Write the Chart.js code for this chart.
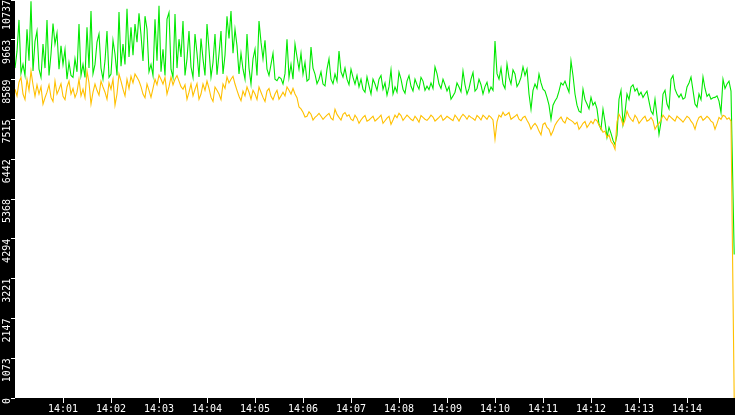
<!DOCTYPE html>
<html>
<head>
<meta charset="utf-8">
<script src="https://cdn.jsdelivr.net/npm/chart.js@4.4.1/dist/chart.umd.min.js"></script>
<style>
  html, body { margin: 0; padding: 0; background: #000; overflow: hidden; }
  canvas { display: block; }
</style>
</head>
<body>
<canvas id="traffic" width="735" height="415"></canvas>
<script>
// tick labels
const timeLabels = ['14:01', '14:02', '14:03', '14:04', '14:05', '14:06', '14:07',
    '14:08', '14:09', '14:10', '14:11', '14:12', '14:13', '14:14'];
const valueLabels = ['0', '1073', '2147', '3221', '4294', '5368', '6442', '7515', '8589', '9663', '10737'];
const yMax = 10737;

// one sample every 2.5 s from 14:00:00, the last one taken at 14:14:59
const sampleStep = 2.5;
const lastSecond = 899;

const greenValues = [
    8900, 9350, 10200, 8760, 9000, 8700, 9950, 9100, 10700, 8820,
    9620, 9900, 8870, 8650, 9550, 8900, 10200, 8700, 9280, 10100,
    9550, 9850, 8870, 9500, 9000, 9400, 8600, 9050, 8700, 8650,
    9150, 8800, 10090, 8700, 9000, 8650, 10000, 8900, 10440, 8750,
    9000, 9600, 9820, 8900, 8600, 9100, 9900, 8650, 8740, 9650,
    9280, 8700, 10410, 8950, 9550, 9000, 10500, 9200, 10000, 9250,
    10090, 9600, 10380, 9800, 9090, 10300, 9950, 8800, 9000, 8700,
    10220, 9100, 10580, 8800, 9410, 8700, 10220, 10400, 8870, 8650,
    10360, 8900, 9680, 9200, 10170, 8700, 9150, 9900, 8930, 8650,
    9820, 9300, 8660, 9700, 9150, 8700, 10090, 9400, 8660, 9050,
    9820, 8720, 9280, 9900, 8740, 9250, 10300, 9700, 10440, 9300,
    9950, 9500, 8740, 9300, 8870, 8600, 9820, 8900, 8470, 9150,
    9410, 8700, 10170, 9600, 9150, 9650, 8870, 8700, 9000, 9300,
    8600, 8560, 8660, 8620, 8470, 8750, 9680, 8650, 9000, 8600,
    9550, 9200, 8870, 9300, 8740, 9050, 8550, 8600, 9470, 8900,
    8740, 8480, 8600, 8800, 8470, 8420, 8870, 9150, 8600, 8480,
    8740, 8550, 9360, 8800, 8660, 8900, 8600, 8450, 8870, 8650,
    8470, 8700, 8390, 8600, 8330, 8250, 8660, 8420, 8200, 8600,
    8470, 8300, 8600, 8700, 8330, 8500, 8170, 8400, 8850, 8200,
    8390, 8250, 8790, 8600, 8330, 8220, 8550, 8700, 8410, 8280,
    8600, 8450, 8330, 8650, 8550, 8300, 8410, 8320, 8500, 8350,
    8930, 8750, 8470, 8350, 8600, 8450, 8280, 8400, 8060, 8150,
    8250, 8500, 8390, 8260, 8820, 8450, 8200, 8350, 8600, 8780,
    8280, 8350, 8600, 8450, 8200, 8400, 8520, 8250, 8390, 8300,
    9630, 8750, 8600, 8900, 8470, 8350, 9010, 8650, 8470, 8850,
    8740, 8400, 8500, 8650, 8930, 8700, 8870, 8200, 7790, 8300,
    8470, 8350, 8740, 8500, 8330, 8280, 8110, 7900, 7520, 7900,
    8010, 8100, 8280, 8500, 8440, 8550, 8390, 8250, 9090, 8700,
    8200, 7900, 7740, 7700, 8330, 8050, 7930, 7800, 8110, 7900,
    7980, 7800, 7385, 7250, 7790, 7450, 7030, 7300, 7140, 6950,
    6840, 7100, 8060, 8300, 7385, 7700, 8200, 8050, 8390, 8450,
    8280, 8350, 8170, 8250, 8110, 8200, 8280, 8000, 7740, 7650,
    8060, 7600, 7110, 7450, 8200, 8300, 7930, 7800, 8600, 8700,
    8330, 8200, 8110, 8200, 8060, 8100, 8390, 8500, 8660, 8300,
    7930, 7850, 8200, 8050, 8660, 8350, 8140, 8200, 8060, 8100,
    8110, 8150, 8010, 7700, 8600, 8350, 8470, 8550, 8280, 3870
];

const yellowValues = [
    8330, 8150, 8520, 8650, 8200, 8050, 8600, 8300, 8820, 8450,
    8140, 8450, 8200, 8400, 7930, 8100, 8250, 8450, 8110, 8000,
    8550, 8200, 8330, 8480, 8140, 8050, 8390, 8550, 8200, 8350,
    8110, 8250, 8600, 8150, 8330, 8100, 8820, 8500, 7930, 8250,
    8470, 8300, 8170, 8550, 8390, 8250, 8060, 8500, 8330, 8600,
    7900, 8200, 8740, 8550, 8330, 8150, 8600, 8350, 8680, 8500,
    8740, 8650, 8550, 8400, 8200, 8100, 8470, 8300, 8110, 8350,
    8600, 8450, 8710, 8600, 8470, 8650, 8200, 8400, 8660, 8450,
    8600, 8700, 8550, 8400, 8330, 8450, 8060, 8250, 8470, 8150,
    8330, 8480, 8060, 8200, 8470, 8300, 8550, 8350, 8110, 8000,
    8390, 8300, 8200, 8050, 8470, 8350, 8660, 8500, 8600, 8680,
    8470, 8300, 8140, 8020, 8280, 8150, 8390, 8250, 8060, 8300,
    8200, 8050, 8390, 8250, 8110, 8000, 8280, 8350, 8140, 8050,
    8200, 8300, 8060, 8150, 8250, 8150, 8390, 8300, 8200, 8350,
    8200, 8100, 7850, 7800, 7710, 7580, 7600, 7720, 7655, 7500,
    7570, 7620, 7680, 7600, 7520, 7580, 7630, 7680, 7550, 7500,
    7790, 7650, 7570, 7500, 7655, 7700, 7600, 7640, 7520, 7480,
    7630, 7550, 7410, 7500, 7570, 7620, 7470, 7500, 7550, 7600,
    7470, 7520, 7570, 7630, 7410, 7480, 7550, 7600, 7380, 7500,
    7630, 7560, 7680, 7620, 7490, 7560, 7630, 7580, 7520, 7480,
    7600, 7530, 7440, 7620, 7570, 7520, 7490, 7550, 7630, 7580,
    7470, 7520, 7570, 7630, 7490, 7540, 7600, 7560, 7520, 7480,
    7630, 7560, 7470, 7580, 7655, 7600, 7520, 7620, 7570, 7540,
    7490, 7620, 7570, 7500, 7630, 7580, 7520, 7620, 7570, 7500,
    6980, 7450, 7630, 7580, 7710, 7620, 7655, 7700, 7520, 7560,
    7600, 7650, 7520, 7480, 7570, 7600, 7490, 7400, 7250, 7350,
    7410, 7330, 7200, 7100, 7380, 7420, 7300, 7250, 7090, 7200,
    7360, 7450, 7520, 7580, 7470, 7420, 7570, 7520, 7490, 7450,
    7385, 7440, 7250, 7320, 7410, 7460, 7300, 7380, 7470, 7400,
    7520, 7480, 7360, 7280, 7170, 7200, 7030, 7100, 6920, 6850,
    6710, 7450, 7655, 7550, 7360, 7500, 7740, 7600, 7520, 7460,
    7630, 7550, 7410, 7480, 7550, 7600, 7470, 7500, 7570, 7480,
    7250, 7350, 7410, 7500, 7630, 7560, 7490, 7620, 7570, 7520,
    7470, 7600, 7550, 7500, 7440, 7520, 7600, 7560, 7470, 7400,
    7250, 7450, 7570, 7600, 7490, 7540, 7600, 7550, 7470, 7430,
    7250, 7400, 7570, 7520, 7630, 7600, 7520, 7560, 7470, 0
];

function toPoints(values) {
    return values.map((v, i) => ({
        x: i === values.length - 1 ? lastSecond : i * sampleStep,
        y: v
    }));
}

//white plot area on the black canvas
const plotBackground = {
    id: 'plotBackground',
    beforeDraw(chart) {
        const {ctx, chartArea} = chart;
        ctx.save();
        ctx.fillStyle = '#fff';
        ctx.fillRect(chartArea.left, chartArea.top, chartArea.right - chartArea.left, chartArea.bottom - chartArea.top);
        ctx.restore();
    }
};

const tickFont = { family: 'DejaVu Sans Mono', size: 10 };

new Chart(document.getElementById('traffic'), {
    type: 'line',
    data: {
        datasets: [
            {
                data: toPoints(yellowValues),
                borderColor: '#ffc000',
                borderWidth: 1.1,
                pointRadius: 0,
                tension: 0
            },
            {
                data: toPoints(greenValues),
                borderColor: '#00e800',
                borderWidth: 1.1,
                pointRadius: 0,
                tension: 0
            }
        ]
    },
    options: {
        responsive: false,
        animation: false,
        devicePixelRatio: 1,
        layout: { padding: 0 },
        plugins: {
            legend: { display: false },
            tooltip: { enabled: false }
        },
        scales: {
            x: {
                type: 'linear',
                min: 0,
                max: 900,
                border: { display: false },
                grid: { drawOnChartArea: false, tickLength: 5, tickColor: '#fff', tickWidth: 1 },
                afterBuildTicks(scale) {
                    scale.ticks = timeLabels.map((_, i) => ({ value: (i + 1) * 60 }));
                },
                ticks: {
                    color: '#fff',
                    font: tickFont,
                    padding: 0,
                    maxRotation: 0,
                    autoSkip: false,
                    callback: (v, i) => timeLabels[i]
                },
                afterFit(scale) {
                    scale.height = 17;
                    scale.paddingLeft = 0;
                    scale.paddingRight = 0;
                }
            },
            y: {
                min: 0,
                max: yMax,
                border: { display: false },
                grid: { drawOnChartArea: false, tickLength: 4, tickColor: '#fff', tickWidth: 1 },
                afterBuildTicks(scale) {
                    scale.ticks = valueLabels.map((_, i) => ({ value: i * yMax / 10 }));
                },
                ticks: {
                    color: '#fff',
                    font: tickFont,
                    padding: 4,
                    minRotation: 90,
                    maxRotation: 90,
                    autoSkip: false,
                    callback: (v, i) => valueLabels[i]
                },
                afterFit(scale) {
                    scale.width = 15;
                    scale.paddingTop = 0;
                    scale.paddingBottom = 0;
                }
            }
        }
    },
    plugins: [plotBackground]
});
</script>
</body>
</html>
